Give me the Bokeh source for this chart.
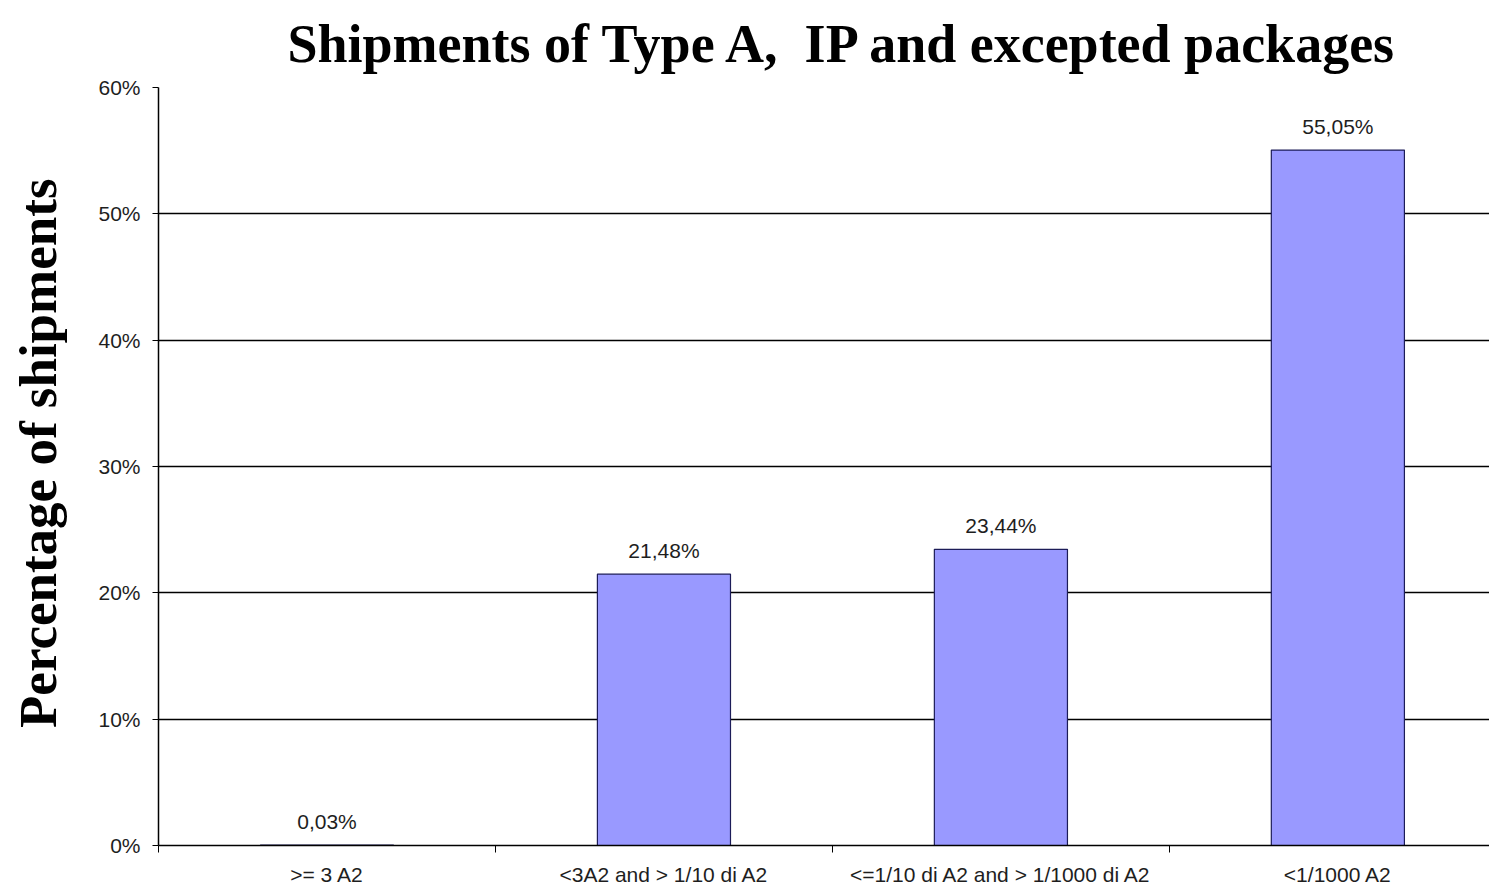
from bokeh.plotting import figure
from bokeh.models import ColumnDataSource, Range1d, FixedTicker
from bokeh.embed import file_html
from bokeh.resources import INLINE

categories = [">= 3 A2", "<3A2 and > 1/10 di A2",
              "<=1/10 di A2 and > 1/1000 di A2", "<1/1000 A2"]
shares = [0.03, 21.48, 23.44, 55.05]
share_labels = ["0,03%", "21,48%", "23,44%", "55,05%"]
y_ticks = [0, 10, 20, 30, 40, 50, 60]

TICK_FONT = "Liberation Sans"
TEXT_COLOR = "#1e1e1e"

centers = [i + 0.5 for i in range(len(categories))]
src = ColumnDataSource(dict(x=centers, top=shares, lab=share_labels))

p = figure(width=1489, height=888, output_backend="svg", toolbar_location=None,
           x_range=Range1d(0, 3.95), y_range=Range1d(0, 60),
           min_border_left=158, min_border_right=0, min_border_top=87,
           min_border_bottom=43,
           title="Shipments of Type A,\u00a0 IP and excepted packages")
p.outline_line_color = None
p.background_fill_color = "white"
p.border_fill_color = "white"

p.title.align = "left"
p.title.offset = 129
p.title.vertical_align = "top"
p.title.standoff = 24
p.title.text_line_height = 0.4
p.title.text_font = "Liberation Serif"
p.title.text_font_style = "bold"
p.title.text_font_size = "54px"
p.title.text_color = "black"

p.vbar(x="x", top="top", width=0.395, source=src,
       fill_color="#9999FF", line_color="#1c1c58", line_width=1.2)
p.text(x="x", y="top", text="lab", source=src, text_align="center",
       text_baseline="bottom", y_offset=-12, text_font_size="21px",
       text_color=TEXT_COLOR, text_font={"value": TICK_FONT})

# y axis
p.yaxis.ticker = FixedTicker(ticks=y_ticks)
p.yaxis.major_label_overrides = {t: f"{t}%" for t in y_ticks}
p.yaxis.minor_tick_line_color = None
p.yaxis.major_tick_in = 0
p.yaxis.major_tick_out = 6
p.yaxis.major_label_standoff = 12
p.yaxis.major_label_text_font = TICK_FONT
p.yaxis.major_label_text_font_size = "21px"
p.yaxis.major_label_text_color = TEXT_COLOR
p.yaxis.axis_line_color = "black"
p.yaxis.axis_line_width = 1.5
p.yaxis.axis_label = "\u00a0\u00a0Percentage of shipments"
p.yaxis.axis_label_text_font = "Liberation Serif"
p.yaxis.axis_label_text_font_style = "bold"
p.yaxis.axis_label_text_font_size = "53px"
p.yaxis.axis_label_text_color = "black"
p.yaxis.axis_label_standoff = 28

# x axis: labels at category centres, ticks at category boundaries
p.xaxis.ticker = FixedTicker(ticks=centers, minor_ticks=[0, 1, 2, 3])
p.xaxis.major_label_overrides = {c: n for c, n in zip(centers, categories)}
p.xaxis.major_tick_in = 0
p.xaxis.major_tick_out = 0
p.xaxis.minor_tick_in = 0
p.xaxis.minor_tick_out = 7
p.xaxis.minor_tick_line_color = "black"
p.xaxis.major_label_standoff = 10
p.xaxis.major_label_text_font = TICK_FONT
p.xaxis.major_label_text_font_size = "21px"
p.xaxis.major_label_text_color = TEXT_COLOR
p.xaxis.axis_line_color = "black"
p.xaxis.axis_line_width = 1.5

p.xgrid.grid_line_color = None
p.ygrid.ticker = FixedTicker(ticks=y_ticks)
p.ygrid.grid_line_color = "black"
p.ygrid.grid_line_width = 1.3

open("out.html", "w").write(file_html(p, INLINE))
